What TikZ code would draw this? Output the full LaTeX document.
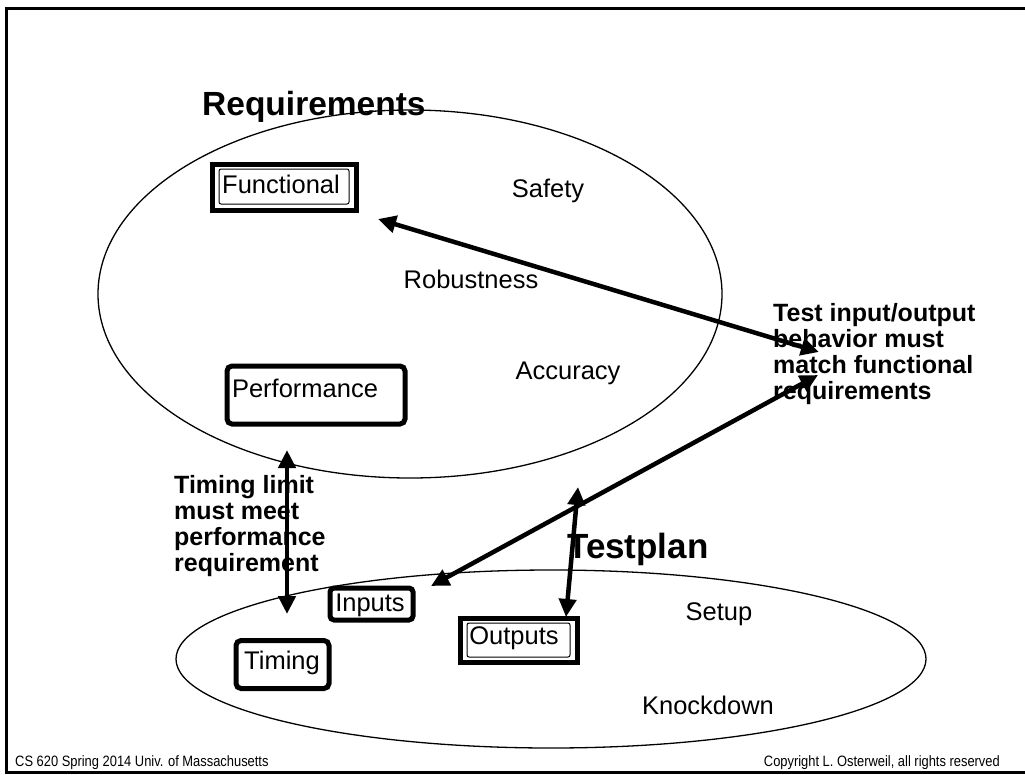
\documentclass[tikz,border=0pt]{standalone}
\usepackage{fontspec}
\setmainfont{Liberation Sans}
\usetikzlibrary{shapes.geometric,arrows.meta}
\newcommand{\fs}[2]{\fontsize{#1}{#2}\selectfont}
\tikzset{
  oval/.style={ellipse,draw,line width=1.3pt,inner sep=0pt},
  word/.style={inner sep=0pt,font=\fs{25.5}{30}},
  headline/.style={inner sep=0pt,font=\fs{33.5}{38}\bfseries},
  note/.style={inner sep=0pt,align=left,font=\fs{25}{26}\bfseries},
  thickbox/.style={draw,line width=5pt,rounded corners=5pt,inner sep=0pt},
  squarebox/.style={draw,line width=5pt,inner sep=0pt},
  thinbox/.style={draw,line width=1pt,rounded corners=2pt,inner sep=0pt},
  link/.style={line width=4.5pt,{Triangle[length=18pt,width=17pt]}-{Triangle[length=18pt,width=17pt]}},
  foot/.style={inner sep=0pt,font=\fs{15}{17}},
}
\begin{document}
\begin{tikzpicture}[x=1pt,y=-1pt]
\useasboundingbox (0,0) rectangle (1025,774);
% slide frame
\draw[line width=3pt] (1025,8) -- (6,8) -- (6,772) -- (1025,772);

% the two groups
\node[oval,minimum width=624pt,minimum height=368pt] (req) at (410,294) {};
\node[oval,minimum width=750pt,minimum height=178pt] (plan) at (551,659) {};

\node[headline,anchor=base west] (reqtitle) at (202,115) {Requirements};
\node[headline,anchor=base west,font=\fs{35}{40}\bfseries] (plantitle) at (567,558) {Testplan};

% requirement kinds
\node[squarebox,minimum width=144pt,minimum height=46pt] (funcbox) at (284,187) {};
\node[thinbox,minimum width=130pt,minimum height=35pt] (funcinner) at (284,186.5) {};
\node[word] (func) at (281,184) {Functional};
\node[word] (safety) at (548,191) {Safety};
\node[word] (robust) at (471,279) {Robustness};
\node[word] (accuracy) at (568,373) {Accuracy};
\node[thickbox,minimum width=178pt,minimum height=58pt] (perfbox) at (316,395) {};
\node[word] (perf) at (305,388) {Performance};

% test plan parts
\node[thickbox,rounded corners=4pt,minimum width=83pt,minimum height=32pt] (inbox) at (371.5,604) {};
\node[word] (inputs) at (370,605.5) {Inputs};
\node[squarebox,minimum width=117pt,minimum height=44pt] (outbox) at (518.5,640) {};
\node[thinbox,minimum width=103pt,minimum height=34pt] (outinner) at (518.5,640) {};
\node[word] (outputs) at (514,638.5) {Outputs};
\node[thickbox,minimum width=93pt,minimum height=48pt] (timebox) at (282.5,664.5) {};
\node[word] (timing) at (282,663) {Timing};
\node[word] (setup) at (719,614) {Setup};
\node[word] (knock) at (708,705) {Knockdown};

% explanations
\node[note,anchor=north west] (iotext) at (773,303.5) {Test input/output\\behavior must\\match functional\\requirements};
\node[note,anchor=north west] (timetext) at (174,475) {Timing limit\\must meet\\performance\\requirement};

% arrow ends
\coordinate (fa) at (378,219);
\coordinate (fb) at (819,352);
\coordinate (ia) at (431,586);
\coordinate (ib) at (818,375);
\coordinate (oa) at (578,487);
\coordinate (ob) at (566,617);
\coordinate (ta) at (287,450);
\coordinate (tb) at (287,614);
\draw[link] (fa) -- (fb);
\draw[link] (ia) -- (ib);
\draw[link] (oa) -- (ob);
\draw[link] (ta) -- (tb);

% footer
\node[foot,anchor=base west] (footl) at (15,766) {\scalebox{0.86}[1]{CS 620 Spring 2014 Univ. of Massachusetts}};
\node[foot,anchor=base east] (footr) at (1000,766) {\scalebox{0.86}[1]{Copyright L. Osterweil, all rights reserved}};
\end{tikzpicture}
\end{document}
